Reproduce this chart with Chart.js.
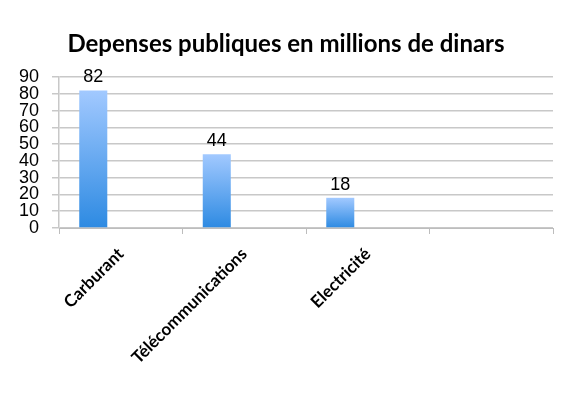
<!DOCTYPE html>
<html><head><meta charset="utf-8">
<script src="https://cdn.jsdelivr.net/npm/chart.js@4/dist/chart.umd.min.js"></script>
<style>html,body{margin:0;padding:0;background:#fff;}</style>
</head><body>
<canvas id="c" width="570" height="398"></canvas>
<script>
const chartTitle = 'Depenses publiques en millions de dinars';
const categories = ['Carburant', 'Télécommunications', 'Electricité', ''];
const depenses = [82, 44, 18, null];
const emptySeries = [null, null, null, null];
const yTickValues = [0, 10, 20, 30, 40, 50, 60, 70, 80, 90];

const titleAndLabels = {
  id: 'titleAndLabels',
  afterDraw(chart) {
    const c = chart.ctx;
    c.save();
    c.font = 'bold 24px Lato, "Open Sans", sans-serif';
    c.fillStyle = '#000';
    c.textAlign = 'center';
    c.textBaseline = 'alphabetic';
    c.fillText(chartTitle, 286, 52);
    c.restore();
  },
  afterDatasetsDraw(chart) {
    const c = chart.ctx;
    const meta = chart.getDatasetMeta(0);
    c.save();
    c.font = '18px "Liberation Sans", Arial, sans-serif';
    c.fillStyle = '#000';
    c.textAlign = 'center';
    c.textBaseline = 'alphabetic';
    meta.data.forEach((bar, i) => {
      const v = chart.data.datasets[0].data[i];
      if (v == null) return;
      c.fillText(String(v), bar.x, bar.y - 8);
    });
    c.restore();
  }
};

new Chart(document.getElementById('c'), {
  type: 'bar',
  data: {
    labels: categories,
    datasets: [{
      label: 'Dépenses',
      data: depenses,
      backgroundColor: (ctx) => {
        const chart = ctx.chart;
        if (!chart.chartArea || ctx.type !== 'data' || ctx.raw == null) return '#5ea3ec';
        const y = chart.scales.y;
        const top = y.getPixelForValue(ctx.raw), bottom = y.getPixelForValue(0);
        const g = chart.ctx.createLinearGradient(0, top, 0, bottom);
        g.addColorStop(0, '#a2c9ff');
        g.addColorStop(1, '#2d8ae2');
        return g;
      },
      borderWidth: 0,
      categoryPercentage: 0.89,
      barPercentage: 0.51
    }, {
      label: '',
      data: emptySeries,
      backgroundColor: 'transparent',
      categoryPercentage: 0.89,
      barPercentage: 0.51
    }]
  },
  options: {
    responsive: false,
    animation: false,
    layout: { padding: { left: 0, right: 17, top: 77, bottom: 0 } },
    plugins: {
      legend: { display: false },
      tooltip: { enabled: false },
      title: { display: false }
    },
    scales: {
      x: {
        offset: true,
        grid: { offset: true, drawOnChartArea: false, drawTicks: true, tickLength: 6, color: '#bdbdbd' },
        border: { color: '#bdbdbd' },
        ticks: {
          minRotation: 45, maxRotation: 45, autoSkip: false, padding: 10,
          color: '#000',
          font: { family: 'Lato, "Open Sans", sans-serif', size: 17, weight: 'bold' }
        },
        afterFit: (s) => { s.height = 170; }
      },
      y: {
        min: 0, max: 90,
        afterBuildTicks: (s) => { s.ticks = yTickValues.map(v => ({ value: v })); },
        grid: { color: '#c8c8c8', lineWidth: 1.5, tickLength: 7 },
        border: { color: '#c8c8c8', width: 1.5 },
        ticks: {
          autoSkip: false, padding: 13, color: '#000',
          font: { family: '"Liberation Sans", Arial, sans-serif', size: 18 }
        },
        afterFit: (s) => { s.width = 59; }
      }
    }
  },
  plugins: [titleAndLabels]
});
</script>
</body></html>
